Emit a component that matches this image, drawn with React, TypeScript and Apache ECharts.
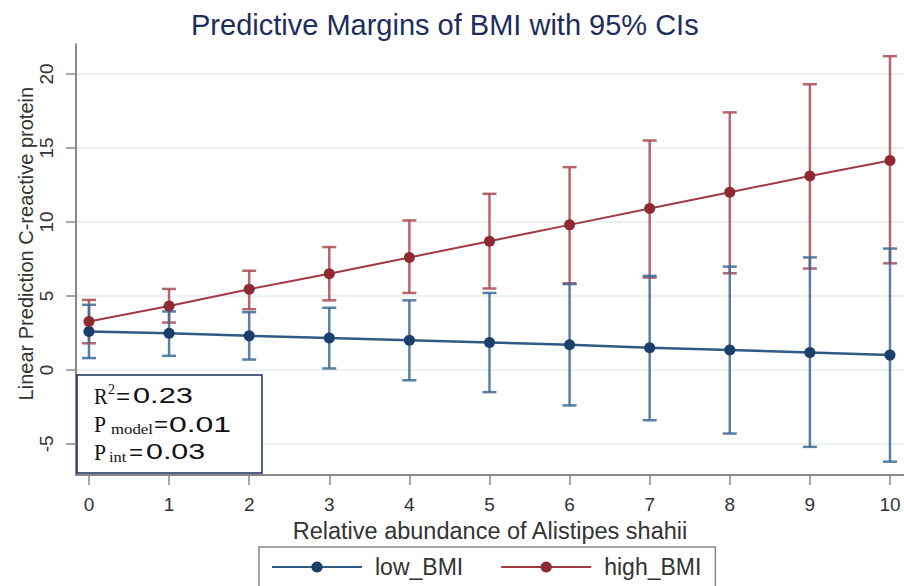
import React, { useEffect, useRef } from "react";
import * as echarts from "echarts";

const xValues = [0, 1, 2, 3, 4, 5, 6, 7, 8, 9, 10];
const xTicks = [0, 1, 2, 3, 4, 5, 6, 7, 8, 9, 10];
const yTicks = [-5, 0, 5, 10, 15, 20];

const lowMean = [2.6, 2.47, 2.3, 2.15, 2.0, 1.85, 1.7, 1.5, 1.35, 1.17, 1.0];
const lowUpper = [4.4, 3.95, 3.9, 4.2, 4.7, 5.2, 5.8, 6.35, 6.98, 7.6, 8.2];
const lowLower = [0.8, 0.95, 0.7, 0.1, -0.7, -1.5, -2.4, -3.4, -4.3, -5.2, -6.2];

const highMean = [3.27, 4.32, 5.45, 6.5, 7.6, 8.7, 9.8, 10.9, 12.0, 13.1, 14.15];
const highUpper = [4.73, 5.47, 6.7, 8.3, 10.1, 11.9, 13.7, 15.5, 17.4, 19.3, 21.2];
const highLower = [1.8, 3.2, 4.1, 4.7, 5.2, 5.5, 5.85, 6.24, 6.53, 6.85, 7.2];

const FONT = "'Liberation Sans', Arial, sans-serif";
const SERIF = "'Liberation Serif', 'Times New Roman', serif";
const BLUE_LINE = "#2e5a86";
const BLUE_DOT = "#1a3f6b";
const BLUE_BAR = "#3d6a95";
const RED_LINE = "#a23a44";
const RED_DOT = "#8e2a33";
const RED_BAR = "#ad4a53";

function errorBarSeries(name: string, lower: number[], upper: number[], color: string) {
  return {
    type: "custom",
    name,
    data: xValues.map((x, i) => [x, lower[i], upper[i]]),
    encode: { x: 0, y: [1, 2] },
    z: 2,
    silent: true,
    renderItem: (params: any, api: any) => {
      const x = api.value(0);
      const lo = api.coord([x, api.value(1)]);
      const hi = api.coord([x, api.value(2)]);
      const half = 7;
      const style = { stroke: color, lineWidth: 2.5, opacity: 0.85 };
      return {
        type: "group",
        children: [
          { type: "line", shape: { x1: lo[0], y1: lo[1], x2: hi[0], y2: hi[1] }, style },
          { type: "line", shape: { x1: lo[0] - half, y1: lo[1], x2: lo[0] + half, y2: lo[1] }, style },
          { type: "line", shape: { x1: hi[0] - half, y1: hi[1], x2: hi[0] + half, y2: hi[1] }, style },
        ],
      };
    },
  };
}

export default function App() {
  const ref = useRef<HTMLDivElement>(null);
  useEffect(() => {
    if (!ref.current) return;
    const chart = echarts.init(ref.current, null, { renderer: "svg" });
    const boxText = (text: string, x: number, y: number, size: number, family: string, scaleX = 1) => ({
      type: "text",
      x,
      y,
      scaleX,
      z: 101,
      style: { text, fontFamily: family, fontSize: size, fill: "#111", verticalAlign: "middle", align: "left" },
    });
    chart.setOption({
      animation: false,
      backgroundColor: "#ffffff",
      title: {
        text: "Predictive Margins of BMI with 95% CIs",
        left: 186,
        top: 5,
        textStyle: { fontFamily: FONT, fontSize: 29, fontWeight: "normal", color: "#1e2d5c" },
      },
      grid: { left: 76, top: 44.3, width: 828, height: 430.7, containLabel: false },
      xAxis: {
        type: "value",
        min: -0.162,
        max: 10.175,
        name: "Relative abundance of Alistipes shahii",
        nameLocation: "middle",
        nameGap: 36,
        nameTextStyle: { fontFamily: FONT, fontSize: 23.5, color: "#333" },
        axisLine: { show: true, onZero: false, lineStyle: { color: "#888", width: 2 } },
        axisTick: { show: true, customValues: xTicks, length: 10, lineStyle: { color: "#888", width: 1.5 } },
        axisLabel: { customValues: xTicks, margin: 20, fontFamily: FONT, fontSize: 19, color: "#333" },
        splitLine: { show: false },
      },
      yAxis: {
        type: "value",
        min: -7.1,
        max: 22,
        name: "Linear Prediction C-reactive protein",
        nameLocation: "middle",
        nameGap: 40,
        nameMoveOverlap: false,
        nameTextStyle: { fontFamily: FONT, fontSize: 20, color: "#333", padding: [0, 0, 0, 32] },
        axisLine: { show: true, onZero: false, lineStyle: { color: "#888", width: 2 } },
        axisTick: { show: true, customValues: yTicks, length: 10, lineStyle: { color: "#888", width: 1.5 } },
        axisLabel: { customValues: yTicks, rotate: 90, margin: 20, fontFamily: FONT, fontSize: 19, color: "#333" },
        splitLine: { show: true, customValues: yTicks, lineStyle: { color: "#e4eeee", width: 1.5 } },
      },
      legend: {
        left: 259,
        top: 547,
        data: ["low_BMI", "high_BMI"],
        itemWidth: 90,
        itemHeight: 14,
        itemGap: 37,
        padding: [7, 14, 14, 12],
        borderColor: "#888",
        borderWidth: 1.5,
        textStyle: { fontFamily: FONT, fontSize: 23, color: "#333", lineHeight: 26, padding: [0, 0, 0, 8] },
      },
      series: [
        errorBarSeries("high_BMI CI", highLower, highUpper, RED_BAR),
        errorBarSeries("low_BMI CI", lowLower, lowUpper, BLUE_BAR),
        {
          type: "line",
          name: "low_BMI",
          data: xValues.map((x, i) => [x, lowMean[i]]),
          symbol: "circle",
          symbolSize: 11,
          z: 3,
          lineStyle: { color: BLUE_LINE, width: 2.5 },
          itemStyle: { color: BLUE_DOT },
        },
        {
          type: "line",
          name: "high_BMI",
          data: xValues.map((x, i) => [x, highMean[i]]),
          symbol: "circle",
          symbolSize: 11,
          z: 3,
          lineStyle: { color: RED_LINE, width: 2 },
          itemStyle: { color: RED_DOT },
        },
      ],
      graphic: [
        {
          type: "rect",
          z: 100,
          shape: { x: 77, y: 375, width: 185, height: 98 },
          style: { fill: "#ffffff", stroke: "#1a2d5a", lineWidth: 1.5 },
        },
        boxText("R", 94, 396, 24, SERIF, 0.85),
        boxText("2", 108, 389, 14, SERIF),
        boxText("=", 116, 396, 22, FONT, 1.1),
        boxText("0.23", 133, 396, 22, FONT, 1.4),
        boxText("P", 94, 424, 24, SERIF, 0.9),
        boxText("model", 111, 429, 14, SERIF, 1.2),
        boxText("=", 154, 424, 22, FONT, 1.1),
        boxText("0.01", 169, 424, 22, FONT, 1.45),
        boxText("P", 94, 452, 24, SERIF, 0.9),
        boxText("int", 109, 457, 14, SERIF, 1.17),
        boxText("=", 129, 452, 22, FONT, 1.1),
        boxText("0.03", 146, 452, 22, FONT, 1.38),
      ],
    });
    return () => chart.dispose();
  }, []);
  return (
    <div
      ref={ref}
      style={{ position: "absolute", left: 0, top: 0, width: 904, height: 586, background: "#fff" }}
    />
  );
}
